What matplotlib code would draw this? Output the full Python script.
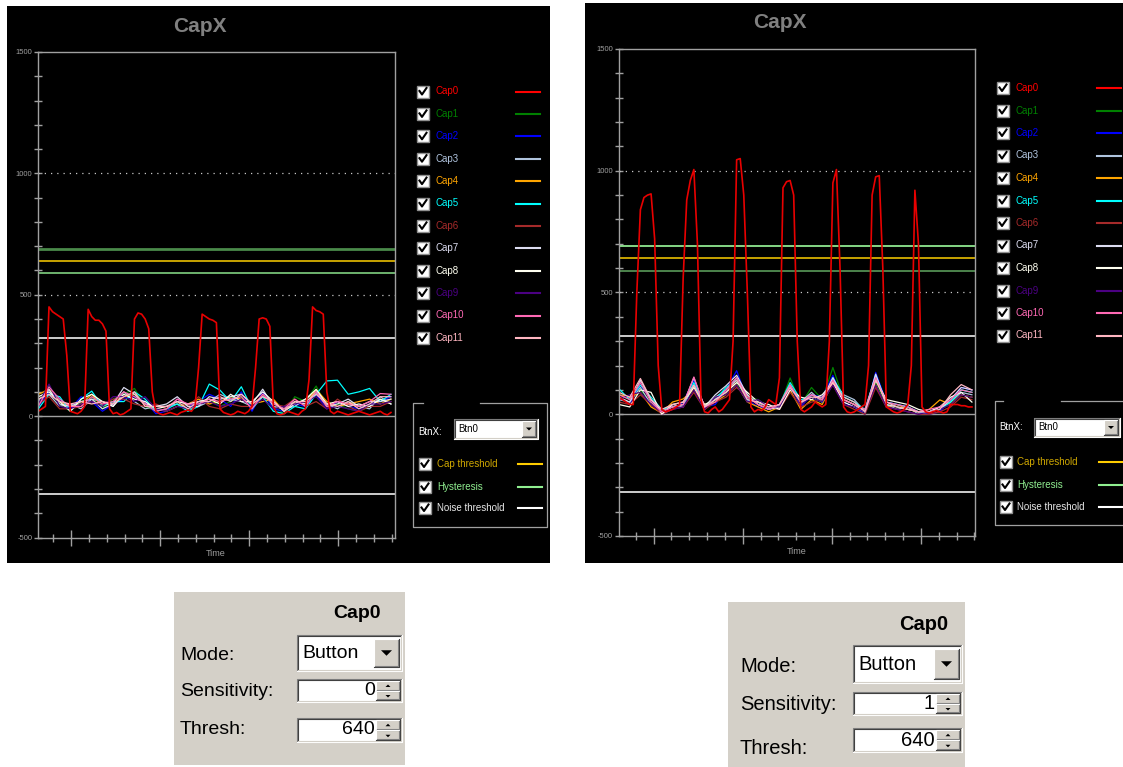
import numpy as np
import matplotlib.pyplot as plt
from matplotlib.patches import Rectangle, Polygon

plt.rcParams['font.family'] = ['Liberation Sans', 'DejaVu Sans']

W, H = 1123, 767

cap_names = ['Cap%d' % i for i in range(12)]
cap_colors = ['#ff0000', '#008000', '#0000ff', '#b0c4de', '#ffa500', '#00ffff',
              '#a52a2a', '#dcdcf0', '#fffff0', '#4b0082', '#ff69b4', '#ffb6c1']
thr_names = ['Cap threshold', 'Hysteresis', 'Noise threshold']
thr_text_colors = ['#d0a800', '#90ee90', '#e8e8e8']
thr_line_colors = ['#ffcc00', '#90ee90', '#ffffff']

cap_thresh = 640
hysteresis = 50
noise_thresh = 320
sensitivity = [0, 1]

t_cap0 = np.arange(100)
t_noise = np.arange(0, 100, 3)

# ---- left screenshot (sensitivity 0) ----
a_cap0 = [20, 30, 40, 450, 430, 420, 410, 400, 250, 20,
          15, 10, 20, 40, 440, 410, 395, 395, 380, 350,
          30, 10, 15, 5, 10, 20, 30, 400, 425, 420,
          400, 360, 100, 20, 10, 5, 10, 15, 10, 5,
          15, 20, 25, 20, 40, 200, 420, 410, 400, 395,
          385, 30, 15, 10, 5, 10, 20, 15, 10, 20,
          40, 200, 400, 405, 400, 370, 40, 10, 5, 10,
          20, 15, 10, 5, 20, 30, 150, 450, 435, 430,
          420, 100, 20, 10, 20, 15, 10, 5, 10, 15,
          20, 15, 10, 5, 10, 15, 20, 10, 5, 15]
a_cap1 = [60, 128, 50, 20, 60, 80, 30, 70, 90, 114, 40, 20, 30, 60, 20, 50, 70,
          40, 60, 80, 30, 90, 40, 10, 80, 60, 124, 40, 50, 30, 20, 40, 70, 60]
a_cap2 = [40, 100, 70, 30, 80, 60, 20, 50, 70, 80, 60, 10, 20, 70, 40, 60, 90,
          70, 40, 100, 20, 100, 30, 20, 50, 40, 90, 30, 60, 40, 30, 50, 60, 80]
a_cap3 = [70, 90, 40, 50, 30, 70, 60, 40, 100, 60, 30, 40, 40, 50, 30, 40, 60,
          90, 70, 60, 40, 80, 60, 30, 40, 70, 100, 50, 30, 60, 40, 30, 80, 50]
a_cap4 = [90, 110, 60, 40, 50, 90, 40, 60, 80, 90, 50, 30, 20, 40, 50, 70, 50,
          60, 80, 70, 50, 60, 70, 20, 60, 50, 110, 60, 40, 50, 60, 70, 50, 70]
a_cap5 = [30, 90, 80, 20, 70, 103, 40, 60, 60, 100, 70, 20, 30, 50, 20, 40, 132,
          107, 60, 121, 30, 80, 20, 10, 40, 30, 90, 145, 148, 90, 100, 114, 60, 90]
a_cap6 = [50, 80, 30, 30, 40, 60, 50, 70, 70, 50, 40, 50, 30, 70, 40, 80, 40,
          30, 50, 40, 40, 90, 50, 40, 70, 40, 60, 30, 70, 40, 20, 40, 40, 60]
a_cap7 = [60, 110, 50, 40, 60, 70, 30, 50, 118, 90, 50, 40, 50, 80, 40, 40, 80,
          70, 80, 90, 50, 111, 40, 30, 60, 50, 100, 40, 50, 70, 40, 60, 60, 70]
a_cap8 = [80, 100, 60, 20, 70, 90, 60, 40, 90, 70, 60, 30, 40, 60, 50, 60, 70,
          50, 90, 60, 60, 100, 60, 20, 50, 70, 110, 50, 60, 40, 50, 40, 70, 50]
a_cap9 = [50, 132, 40, 30, 50, 60, 40, 80, 80, 60, 80, 30, 20, 40, 30, 50, 60,
          40, 50, 70, 40, 70, 30, 40, 50, 60, 80, 30, 40, 30, 20, 50, 50, 60]
a_cap10 = [40, 120, 70, 40, 40, 80, 50, 60, 100, 80, 50, 20, 30, 70, 50, 50, 70,
           60, 70, 80, 30, 90, 50, 30, 70, 40, 100, 40, 60, 50, 40, 60, 93, 90]
a_cap11 = [70, 90, 60, 50, 60, 50, 60, 50, 80, 100, 40, 40, 40, 60, 30, 60, 60,
           80, 60, 90, 50, 80, 60, 20, 60, 60, 90, 50, 40, 60, 30, 50, 80, 80]

# ---- right screenshot (sensitivity 1) ----
b_cap0 = [70, 60, 50, 40, 40, 500, 840, 890, 900, 905,
          720, 200, 20, 10, 15, 20, 30, 40, 560, 880,
          960, 1005, 700, 60, 10, 5, 20, 30, 10, 20,
          40, 60, 300, 1045, 1050, 900, 500, 30, 10, 20,
          15, 30, 60, 50, 40, 150, 930, 955, 960, 900,
          300, 20, 10, 20, 30, 50, 40, 30, 40, 300,
          950, 1005, 600, 30, 10, 5, 10, 20, 30, 40,
          200, 900, 975, 980, 600, 30, 20, 10, 5, 10,
          20, 40, 200, 920, 700, 30, 10, 5, 10, 15,
          10, 5, 10, 40, 40, 40, 35, 35, 30, 30]
b_cap1 = [90, 60, 100, 50, 10, 30, 40, 110, 20, 60, 90, 130, 70, 60, 30, 30, 149,
          40, 110, 60, 192, 60, 40, 10, 130, 40, 30, 20, 10, 10, 20, 40, 100, 90]
b_cap2 = [70, 40, 120, 60, 0, 20, 50, 140, 30, 40, 100, 179, 60, 30, 20, 40, 120,
          30, 80, 70, 160, 50, 30, 0, 172, 50, 40, 30, 10, 0, 10, 60, 110, 100]
b_cap3 = [60, 50, 110, 40, 10, 40, 30, 120, 20, 70, 100, 150, 80, 40, 30, 20, 110,
          50, 90, 50, 140, 80, 60, 10, 150, 40, 20, 30, 0, 10, 30, 50, 90, 80]
b_cap4 = [80, 70, 90, 30, 5, 50, 63, 100, 40, 50, 80, 120, 50, 30, 10, 30, 100,
          20, 60, 40, 130, 60, 40, 10, 120, 30, 40, 20, 10, 20, 59, 40, 80, 70]
b_cap5 = [104, 60, 120, 70, 20, 30, 40, 130, 30, 60, 110, 140, 60, 50, 20, 40, 130,
          60, 70, 50, 150, 72, 50, 20, 160, 50, 40, 30, 10, 10, 20, 50, 100, 90]
b_cap6 = [50, 40, 80, 40, 0, 20, 30, 90, 20, 50, 70, 110, 70, 40, 30, 20, 90,
          30, 50, 60, 120, 40, 20, 0, 110, 30, 20, 10, 0, 0, 10, 30, 70, 60]
b_cap7 = [70, 50, 140, 60, 10, 30, 40, 150, 30, 80, 117, 160, 80, 40, 20, 30, 120,
          40, 80, 60, 150, 60, 40, 10, 165, 40, 30, 20, 10, 10, 20, 60, 110, 100]
b_cap8 = [40, 30, 100, 90, 0, 40, 50, 110, 40, 60, 90, 130, 90, 50, 40, 20, 100,
          70, 60, 80, 130, 50, 30, 10, 140, 60, 50, 40, 20, 10, 30, 70, 90, 50]
b_cap9 = [60, 80, 90, 40, 10, 20, 30, 100, 20, 70, 80, 120, 50, 60, 30, 30, 110,
          40, 70, 50, 120, 40, 30, 10, 120, 30, 20, 10, 0, 10, 20, 40, 80, 70]
b_cap10 = [80, 60, 130, 50, 10, 30, 40, 153, 30, 50, 100, 150, 70, 40, 20, 40, 120,
           50, 80, 60, 140, 60, 40, 20, 150, 50, 40, 30, 10, 20, 30, 60, 100, 90]
b_cap11 = [90, 70, 147, 60, 20, 40, 50, 120, 30, 60, 90, 140, 60, 50, 30, 40, 110,
           50, 70, 70, 130, 70, 50, 10, 140, 50, 30, 20, 10, 10, 20, 80, 122, 100]

a_noise = [a_cap1, a_cap2, a_cap3, a_cap4, a_cap5, a_cap6,
           a_cap7, a_cap8, a_cap9, a_cap10, a_cap11]
b_noise = [b_cap1, b_cap2, b_cap3, b_cap4, b_cap5, b_cap6,
           b_cap7, b_cap8, b_cap9, b_cap10, b_cap11]

fig = plt.figure(figsize=(W / 100, H / 100), dpi=100, facecolor='white')

# overlay in pixel coordinates for the screenshot chrome
ov = fig.add_axes([0, 0, 1, 1])
ov.set_xlim(0, W)
ov.set_ylim(H, 0)
ov.axis('off')


def px_axes(x0, y0, x1, y1):
    return fig.add_axes([x0 / W, 1 - y1 / H, (x1 - x0) / W, (y1 - y0) / H])


def sunken(x0, y0, x1, y1):
    ov.add_patch(Rectangle((x0, y0), x1 - x0, y1 - y0, fc='white', ec='none'))
    ov.plot([x0, x0, x1], [y1, y0, y0], color='#808080', lw=0.8)
    ov.plot([x0 + 1, x0 + 1, x1 - 1], [y1 - 1, y0 + 1, y0 + 1], color='#404040', lw=0.8)
    ov.plot([x0, x1, x1], [y1, y1, y0], color='#ffffff', lw=0.8)
    ov.plot([x0 + 1, x1 - 1, x1 - 1], [y1 - 1, y1 - 1, y0 + 1], color='#d4d0c8', lw=0.8)


def raised(x0, y0, x1, y1):
    ov.add_patch(Rectangle((x0, y0), x1 - x0, y1 - y0, fc='#d4d0c8', ec='none'))
    ov.plot([x0, x0, x1], [y1, y0, y0], color='#ffffff', lw=0.8)
    ov.plot([x0, x1, x1], [y1, y1, y0], color='#404040', lw=0.8)
    ov.plot([x0 + 1, x1 - 1, x1 - 1], [y1 - 1, y1 - 1, y0 + 1], color='#808080', lw=0.8)


def tri(cx, cy, w, up=False):
    h = w / 2
    if up:
        pts = [(cx - w / 2, cy + h / 2), (cx + w / 2, cy + h / 2), (cx, cy - h / 2)]
    else:
        pts = [(cx - w / 2, cy - h / 2), (cx + w / 2, cy - h / 2), (cx, cy + h / 2)]
    ov.add_patch(Polygon(pts, closed=True, fc='black', ec='none'))


def checkbox(x, y):
    ov.add_patch(Rectangle((x, y - 6), 12, 12, fc='white', ec='#909090', lw=1))
    ov.plot([x + 2.5, x + 5, x + 9.5], [y - 0.5, y + 3, y - 3.5], color='black', lw=1.5)


def draw_panel(c, cap0, noise):
    bx0, by0, bx1, by1 = c['bg']
    ov.add_patch(Rectangle((bx0, by0), bx1 - bx0, by1 - by0, fc='black', ec='none'))
    ov.text(c['title'][0], c['title'][1], 'CapX', color='#808080', fontsize=15,
            fontweight='bold', ha='center', va='center')
    ov.text(c['time'][0], c['time'][1], 'Time', color='#a0a0a0', fontsize=6.5,
            ha='center', va='center')

    ax = px_axes(*c['axes'])
    ax.set_facecolor('black')
    ax.set_xlim(0, 100)
    ax.set_ylim(-500, 1500)
    for s in ax.spines.values():
        s.set_color('#a0a0a0')
        s.set_linewidth(1)
    yt = list(range(-500, 1501, 100))
    ax.set_yticks(yt)
    ax.set_yticklabels([str(v) if v % 500 == 0 else '' for v in yt])
    ax.tick_params(axis='y', direction='inout', length=5.5, width=1, color='#a0a0a0',
                   labelcolor='#a0a0a0', labelsize=5.5, pad=1.5)
    off = c['tick_off']
    ax.set_xticks(np.arange(off + 5, 100, 25))
    ax.set_xticks(np.arange(off, 100, 5), minor=True)
    ax.set_xticklabels([])
    ax.tick_params(axis='x', which='major', direction='inout', length=11.5, width=1,
                   color='#a0a0a0')
    ax.tick_params(axis='x', which='minor', direction='inout', length=5.8, width=1,
                   color='#a0a0a0')

    for v in (500, 1000):
        ax.axhline(v, color='#c8c8c8', lw=0.9, ls=(0, (1, 4)))
    ax.axhline(0, color='#a0a0a0', lw=1)
    ax.axhline(cap_thresh + hysteresis, color=c['hyst_hi'], lw=c['hyst_hi_lw'])
    ax.axhline(cap_thresh, color='#d8b000', lw=1.3)
    ax.axhline(cap_thresh - hysteresis, color=c['hyst_lo'], lw=1.2)
    ax.axhline(noise_thresh, color='#f0f0f0', lw=1.2)
    ax.axhline(-noise_thresh, color='#f0f0f0', lw=1.2)

    for i, vals in enumerate(noise):
        ax.plot(t_noise, vals, color=cap_colors[i + 1], lw=0.9)
    ax.plot(t_cap0, cap0, color='#e80000', lw=1.2)

    # channel legend
    for i in range(12):
        y = c['leg_y0'] + i * c['leg_dy']
        checkbox(c['leg_cb'], y)
        ov.text(c['leg_tx'], y, cap_names[i], color=cap_colors[i], fontsize=7,
                ha='left', va='center')
        ov.plot(c['leg_sw'], [y, y], color=cap_colors[i], lw=1.5)

    # threshold group box
    gx0, gy0, gx1, gy1 = c['group']
    g0, g1 = c['gap']
    ov.plot([g0, gx0, gx0, gx1, gx1, g1], [gy0, gy0, gy1, gy1, gy0, gy0],
            color='#a0a0a0', lw=0.9)
    ov.text(c['btnx'][0], c['btnx'][1], 'BtnX:', color='white', fontsize=7,
            ha='left', va='center')
    dx0, dy0, dx1, dy1 = c['drop']
    sunken(dx0, dy0, dx1, dy1)
    raised(dx1 - 16, dy0 + 2, dx1 - 2, dy1 - 2)
    tri(dx1 - 9, (dy0 + dy1) / 2, 6)
    ov.text(dx0 + 4, (dy0 + dy1) / 2, 'Btn0', color='black', fontsize=7,
            ha='left', va='center')
    for i in range(3):
        y = c['thr_y'][i]
        checkbox(c['thr_cb'], y)
        ov.text(c['thr_tx'], y, thr_names[i], color=thr_text_colors[i], fontsize=7,
                ha='left', va='center')
        ov.plot(c['thr_sw'], [y, y], color=thr_line_colors[i], lw=1.5)


def draw_settings(c, sens):
    x0, y0, x1, y1 = c['bg']
    ov.add_patch(Rectangle((x0, y0), x1 - x0, y1 - y0, fc='#d4d0c8', ec='none'))
    fs = c['fs']
    ov.text(c['cap0'][0], c['cap0'][1], 'Cap0', color='black', fontsize=fs,
            fontweight='bold', ha='right', va='center')
    for lab, y in zip(['Mode:', 'Sensitivity:', 'Thresh:'], c['rows']):
        ov.text(c['lx'], y, lab, color='black', fontsize=fs, ha='left', va='center')
    mx0, my0, mx1, my1 = c['mode_box']
    sunken(mx0, my0, mx1, my1)
    raised(mx1 - 28, my0 + 4, mx1 - 3, my1 - 4)
    tri(mx1 - 15.5, (my0 + my1) / 2, 11)
    ov.text(mx0 + 5, (my0 + my1) / 2, 'Button', color='black', fontsize=fs,
            ha='left', va='center')
    for box, val in ((c['sens_box'], sens), (c['thr_box'], cap_thresh)):
        sx0, sy0, sx1, sy1 = box
        sunken(sx0, sy0, sx1, sy1)
        ym = (sy0 + sy1) / 2
        raised(sx1 - 26, sy0 + 2, sx1 - 2, ym)
        raised(sx1 - 26, ym, sx1 - 2, sy1 - 2)
        tri(sx1 - 14, (sy0 + ym) / 2 + 1, 5, up=True)
        tri(sx1 - 14, (ym + sy1) / 2, 5)
        ov.text(sx1 - 27, ym, str(val), color='black', fontsize=fs,
                ha='right', va='center')


left = dict(bg=(7, 6, 550, 563), axes=(38.3, 52, 394.5, 537.5), title=(200, 26),
            time=(216, 554), tick_off=4.2,
            hyst_hi='#4a8a4a', hyst_hi_lw=2.0, hyst_lo='#80d080',
            leg_y0=91.5, leg_dy=22.4, leg_cb=417, leg_tx=435, leg_sw=(516, 540),
            group=(413, 403, 547, 527), gap=(423, 480), btnx=(418, 432),
            drop=(454, 419, 538, 439), thr_y=(464, 487, 508), thr_cb=419,
            thr_tx=437, thr_sw=(518, 542))
right = dict(bg=(585, 3, 1123, 563), axes=(619, 49, 975.5, 536), title=(780, 23),
             time=(797, 552), tick_off=4.7,
             hyst_hi='#90e890', hyst_hi_lw=1.3, hyst_lo='#5a9a5a',
             leg_y0=88, leg_dy=22.5, leg_cb=997, leg_tx=1016, leg_sw=(1097, 1121),
             group=(995, 401, 1135, 525), gap=(1003, 1061), btnx=(999, 427),
             drop=(1034, 418, 1120, 437), thr_y=(462, 485, 507), thr_cb=1000,
             thr_tx=1017, thr_sw=(1099, 1123))

draw_panel(left, a_cap0, a_noise)
draw_panel(right, b_cap0, b_noise)

set_left = dict(bg=(174, 592, 405, 765), cap0=(381, 614), lx=180, rows=(655, 692, 729),
                mode_box=(297, 635, 402, 671), sens_box=(297, 679, 402, 702),
                thr_box=(297, 718, 402, 742), fs=14)
set_right = dict(bg=(728, 602, 965, 767), cap0=(948, 625), lx=740, rows=(667, 705, 748),
                 mode_box=(853, 645, 962, 683), sens_box=(853, 692, 962, 715),
                 thr_box=(853, 728, 962, 752), fs=14.5)

draw_settings(set_left, sensitivity[0])
draw_settings(set_right, sensitivity[1])

fig.savefig('out.png', dpi=100, facecolor='white')
